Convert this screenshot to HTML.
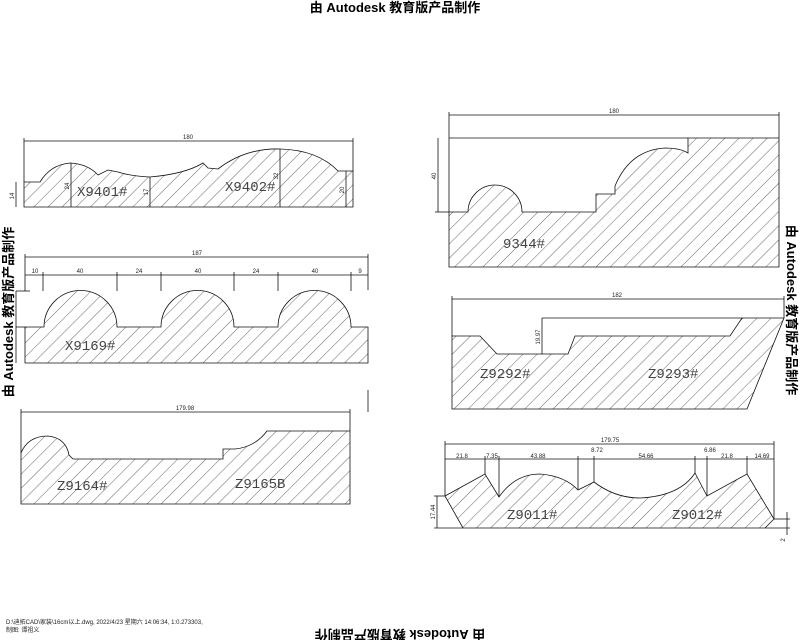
<!DOCTYPE html>
<html><head><meta charset="utf-8"><style>
html,body{margin:0;padding:0;background:#fff;width:800px;height:640px;overflow:hidden}
svg{display:block}
.wm{font-family:"Liberation Sans","Noto Sans CJK SC",sans-serif;font-weight:bold;font-size:13px;fill:#000}
.lb{font-family:"Liberation Mono","DejaVu Sans Mono",monospace;font-size:14px;fill:#444}
.dm{font-family:"Liberation Sans",sans-serif;font-size:6px;fill:#222}
</style></head><body>
<svg width="800" height="640" viewBox="0 0 800 640" xmlns="http://www.w3.org/2000/svg">
<defs>
<pattern id="h" patternUnits="userSpaceOnUse" width="10" height="10" patternTransform="rotate(45)">
<line x1="0" y1="0" x2="0" y2="10" stroke="#222" stroke-width="0.7"/>
</pattern>
</defs>
<g stroke="#111" stroke-width="0.8">
<!-- Profile 1 -->
<path d="M24,182 L40,182 Q50,165 70,163 Q88,164 98,175 L108,170 L118,172 Q130,176 150,177 Q185,174 203,163 L208,168 L218,169 Q245,148 280,149 Q318,150 338,171 L353,171 L353,207 L24,207 Z" fill="url(#h)"/>
<line x1="24" y1="141" x2="353" y2="141"/><line x1="24" y1="138" x2="24" y2="182"/><line x1="353" y1="138" x2="353" y2="171"/>
<line x1="16" y1="182" x2="16" y2="207"/><line x1="71" y1="163" x2="71" y2="207"/><line x1="150" y1="177" x2="150" y2="207"/><line x1="280" y1="149" x2="280" y2="207"/><line x1="346" y1="171" x2="346" y2="207"/>
<!-- Profile 2 -->
<path d="M25,327 L44,327 A36.5,36.5 0 0 1 117,327 L161,327 A36.5,36.5 0 0 1 234,327 L278,327 A36.5,36.5 0 0 1 351,327 L368,327 L368,363 L25,363 Z" fill="url(#h)"/>
<line x1="25" y1="257" x2="368" y2="257"/><line x1="25" y1="254" x2="25" y2="291"/><line x1="368" y1="254" x2="368" y2="290"/>
<line x1="25" y1="275" x2="368" y2="275"/>
<line x1="43" y1="272" x2="43" y2="291"/><line x1="117" y1="272" x2="117" y2="291"/><line x1="161" y1="272" x2="161" y2="291"/><line x1="234" y1="272" x2="234" y2="291"/><line x1="278" y1="272" x2="278" y2="291"/><line x1="351" y1="272" x2="351" y2="291"/>
<line x1="16" y1="291" x2="30" y2="291"/><line x1="16" y1="291" x2="16" y2="363"/><line x1="16" y1="327" x2="25" y2="327"/>
<!-- Profile 3 -->
<path d="M449,212 L468,212 A27,27 0 0 1 522,212 L596,212 L596,194 L615,194 L615,186 Q630,150 665,148 Q680,148 688,153 L688,138 L779,138 L779,267 L449,267 Z" fill="url(#h)"/>
<line x1="449" y1="138" x2="688" y2="138"/>
<line x1="449" y1="115" x2="779" y2="115"/><line x1="449" y1="112" x2="449" y2="212"/><line x1="779" y1="112" x2="779" y2="138"/>
<line x1="438" y1="138" x2="438" y2="212"/><line x1="435" y1="212" x2="449" y2="212"/>
<!-- Profile 4 -->
<path d="M452,336 L480,336 L497,354 L568,354 L575,336 L730,336 L742,318 L784,318 L747,409 L452,409 Z" fill="url(#h)"/>
<line x1="452" y1="299" x2="784" y2="299"/><line x1="452" y1="296" x2="452" y2="336"/><line x1="784" y1="296" x2="784" y2="318"/>
<line x1="542" y1="318" x2="742" y2="318"/><line x1="542" y1="318" x2="542" y2="354"/>
<!-- Profile 5 -->
<path d="M21,453 Q28,436 48,436 Q66,438 69,455 L73,459 L223,459 L223,449 L235,449 Q255,447 267,431 L350,431 L350,504 L21,504 Z" fill="url(#h)"/>
<line x1="21" y1="412" x2="350" y2="412"/><line x1="21" y1="409" x2="21" y2="453"/><line x1="350" y1="409" x2="350" y2="431"/>
<!-- Profile 6 -->
<path d="M445,496 L485,474 L499,497 Q515,474 540,474 Q565,476 578,490 L594,482 Q615,498 640,498 Q680,496 695,473 L707,496 L747,474 L774,519 L765,528 L463,528 Z" fill="url(#h)"/>
<line x1="445" y1="444" x2="774" y2="444"/><line x1="445" y1="441" x2="445" y2="496"/><line x1="774" y1="441" x2="774" y2="519"/>
<line x1="445" y1="459" x2="774" y2="459"/>
<line x1="485" y1="456" x2="485" y2="474"/><line x1="499" y1="456" x2="499" y2="497"/><line x1="578" y1="456" x2="578" y2="490"/><line x1="594" y1="456" x2="594" y2="482"/><line x1="695" y1="456" x2="695" y2="473"/><line x1="707" y1="456" x2="707" y2="496"/><line x1="747" y1="456" x2="747" y2="474"/>
<line x1="437" y1="496" x2="437" y2="528"/><line x1="434" y1="496" x2="445" y2="496"/><line x1="434" y1="528" x2="463" y2="528"/>
<line x1="765" y1="528" x2="790" y2="528"/><line x1="774" y1="519" x2="790" y2="519"/><line x1="787" y1="512" x2="787" y2="535"/>
<line x1="4" y1="0" x2="4" y2="0"/>
<line x1="368" y1="390" x2="368" y2="412"/>
</g>
<!-- dim text -->
<g class="dm" text-anchor="middle">
<text x="188" y="139">180</text>
<text x="197" y="255">187</text>
<text x="35" y="273">10</text><text x="80" y="273">40</text><text x="139" y="273">24</text><text x="198" y="273">40</text><text x="256" y="273">24</text><text x="315" y="273">40</text><text x="360" y="273">9</text>
<text x="614" y="113">180</text>
<text x="617" y="297">182</text>
<text x="185" y="410">179.98</text>
<text x="610" y="442">179.75</text>
<text x="462" y="458">21.8</text><text x="492" y="458">7.35</text><text x="538" y="458">43.88</text><text x="597" y="452">8.72</text><text x="646" y="458">54.66</text><text x="710" y="452">6.86</text><text x="727" y="458">21.8</text><text x="762" y="458">14.69</text>
<text transform="translate(14,196) rotate(-90)">14</text>
<text transform="translate(69,186) rotate(-90)">24</text>
<text transform="translate(148,192) rotate(-90)">17</text>
<text transform="translate(278,176) rotate(-90)">32</text>
<text transform="translate(344,190) rotate(-90)">20</text>
<text transform="translate(436,176) rotate(-90)">40</text>
<text transform="translate(540,337) rotate(-90)">19.97</text>
<text transform="translate(435,512) rotate(-90)">17.44</text>
<text transform="translate(785,540) rotate(-90)">2</text>
</g>
<!-- labels -->
<g class="lb">
<text x="77" y="196">X9401#</text>
<text x="225" y="191">X9402#</text>
<text x="65" y="350">X9169#</text>
<text x="503" y="248">9344#</text>
<text x="480" y="378">Z9292#</text>
<text x="648" y="378">Z9293#</text>
<text x="57" y="490">Z9164#</text>
<text x="235" y="488">Z9165B</text>
<text x="507" y="519">Z9011#</text>
<text x="672" y="519">Z9012#</text>
</g>
<!-- watermarks -->
<g class="wm">
<text x="395" y="12" text-anchor="middle">由 Autodesk 教育版产品制作</text>
<text transform="translate(13,312) rotate(-90)" text-anchor="middle">由 Autodesk 教育版产品制作</text>
<text transform="translate(787,310) rotate(90)" text-anchor="middle">由 Autodesk 教育版产品制作</text>
<text transform="translate(400,630) rotate(180)" text-anchor="middle">由 Autodesk 教育版产品制作</text>
</g>
<g font-family="Liberation Sans,Noto Sans CJK SC,sans-serif" font-size="6" fill="#222">
<text x="6" y="624">D:\迪拓CAD\家装\16cm以上.dwg, 2022/4/23 星期六 14:06:34, 1:0.273303,</text>
<text x="6" y="632">制图: 谭祖义</text>
</g>
</svg>
</body></html>
